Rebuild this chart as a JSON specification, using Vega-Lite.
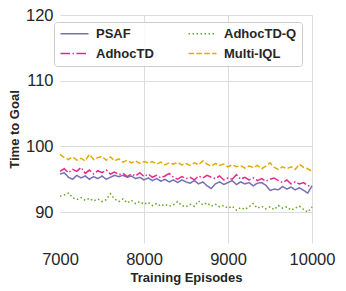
{
"$schema": "https://vega.github.io/schema/vega-lite/v6.json",
"width": 252, "height": 228,
"autosize": {"type": "none"},
"padding": {"left": 60, "top": 15, "right": 34, "bottom": 48},
"background": "white",
"config": {"font": "Liberation Sans", "view": {"stroke": null},
 "axis": {"labelFontSize": 16.5, "labelColor": "#262626", "labelFont": "Liberation Sans", "titleFontSize": 13, "titleFontWeight": "bold", "titleColor": "#262626", "ticks": false, "domain": false, "gridColor": "#dcdcdc", "gridWidth": 1, "labelPadding": 8, "titlePadding": 4, "labelFlush": false, "labelOverlap": false}},
"data": {"values": [
{"ep":7000,"alg":"PSAF","t":95.8},{"ep":7050,"alg":"PSAF","t":96.0},{"ep":7100,"alg":"PSAF","t":95.3},{"ep":7150,"alg":"PSAF","t":95.0},{"ep":7200,"alg":"PSAF","t":95.6},{"ep":7250,"alg":"PSAF","t":95.2},{"ep":7300,"alg":"PSAF","t":95.5},{"ep":7350,"alg":"PSAF","t":95.0},{"ep":7400,"alg":"PSAF","t":95.4},{"ep":7450,"alg":"PSAF","t":95.1},{"ep":7500,"alg":"PSAF","t":95.5},{"ep":7550,"alg":"PSAF","t":95.0},{"ep":7600,"alg":"PSAF","t":95.3},{"ep":7650,"alg":"PSAF","t":95.6},{"ep":7700,"alg":"PSAF","t":95.4},{"ep":7750,"alg":"PSAF","t":95.6},{"ep":7800,"alg":"PSAF","t":95.3},{"ep":7850,"alg":"PSAF","t":95.5},{"ep":7900,"alg":"PSAF","t":95.1},{"ep":7950,"alg":"PSAF","t":95.3},{"ep":8000,"alg":"PSAF","t":94.9},{"ep":8050,"alg":"PSAF","t":95.2},{"ep":8100,"alg":"PSAF","t":94.8},{"ep":8150,"alg":"PSAF","t":95.1},{"ep":8200,"alg":"PSAF","t":94.7},{"ep":8250,"alg":"PSAF","t":95.0},{"ep":8300,"alg":"PSAF","t":94.6},{"ep":8350,"alg":"PSAF","t":94.9},{"ep":8400,"alg":"PSAF","t":94.5},{"ep":8450,"alg":"PSAF","t":94.9},{"ep":8500,"alg":"PSAF","t":94.6},{"ep":8550,"alg":"PSAF","t":94.4},{"ep":8600,"alg":"PSAF","t":94.8},{"ep":8650,"alg":"PSAF","t":94.3},{"ep":8700,"alg":"PSAF","t":94.6},{"ep":8750,"alg":"PSAF","t":94.0},{"ep":8800,"alg":"PSAF","t":93.6},{"ep":8850,"alg":"PSAF","t":94.3},{"ep":8900,"alg":"PSAF","t":94.6},{"ep":8950,"alg":"PSAF","t":94.2},{"ep":9000,"alg":"PSAF","t":94.5},{"ep":9050,"alg":"PSAF","t":94.8},{"ep":9100,"alg":"PSAF","t":94.2},{"ep":9150,"alg":"PSAF","t":94.6},{"ep":9200,"alg":"PSAF","t":94.3},{"ep":9250,"alg":"PSAF","t":94.5},{"ep":9300,"alg":"PSAF","t":94.0},{"ep":9350,"alg":"PSAF","t":94.4},{"ep":9400,"alg":"PSAF","t":94.5},{"ep":9450,"alg":"PSAF","t":94.1},{"ep":9500,"alg":"PSAF","t":93.3},{"ep":9550,"alg":"PSAF","t":93.5},{"ep":9600,"alg":"PSAF","t":93.4},{"ep":9650,"alg":"PSAF","t":93.9},{"ep":9700,"alg":"PSAF","t":93.5},{"ep":9750,"alg":"PSAF","t":93.8},{"ep":9800,"alg":"PSAF","t":93.4},{"ep":9850,"alg":"PSAF","t":93.7},{"ep":9900,"alg":"PSAF","t":93.3},{"ep":9950,"alg":"PSAF","t":92.9},{"ep":10000,"alg":"PSAF","t":94.0},
{"ep":7000,"alg":"AdhocTD","t":96.2},{"ep":7050,"alg":"AdhocTD","t":96.6},{"ep":7100,"alg":"AdhocTD","t":96.0},{"ep":7150,"alg":"AdhocTD","t":96.5},{"ep":7200,"alg":"AdhocTD","t":96.2},{"ep":7250,"alg":"AdhocTD","t":96.8},{"ep":7300,"alg":"AdhocTD","t":95.9},{"ep":7350,"alg":"AdhocTD","t":96.4},{"ep":7400,"alg":"AdhocTD","t":95.8},{"ep":7450,"alg":"AdhocTD","t":96.3},{"ep":7500,"alg":"AdhocTD","t":96.0},{"ep":7550,"alg":"AdhocTD","t":96.4},{"ep":7600,"alg":"AdhocTD","t":95.8},{"ep":7650,"alg":"AdhocTD","t":96.1},{"ep":7700,"alg":"AdhocTD","t":95.7},{"ep":7750,"alg":"AdhocTD","t":95.9},{"ep":7800,"alg":"AdhocTD","t":95.4},{"ep":7850,"alg":"AdhocTD","t":95.8},{"ep":7900,"alg":"AdhocTD","t":95.5},{"ep":7950,"alg":"AdhocTD","t":96.0},{"ep":8000,"alg":"AdhocTD","t":95.4},{"ep":8050,"alg":"AdhocTD","t":95.8},{"ep":8100,"alg":"AdhocTD","t":95.3},{"ep":8150,"alg":"AdhocTD","t":95.6},{"ep":8200,"alg":"AdhocTD","t":95.2},{"ep":8250,"alg":"AdhocTD","t":95.5},{"ep":8300,"alg":"AdhocTD","t":95.9},{"ep":8350,"alg":"AdhocTD","t":95.3},{"ep":8400,"alg":"AdhocTD","t":95.0},{"ep":8450,"alg":"AdhocTD","t":95.4},{"ep":8500,"alg":"AdhocTD","t":95.1},{"ep":8550,"alg":"AdhocTD","t":95.3},{"ep":8600,"alg":"AdhocTD","t":94.9},{"ep":8650,"alg":"AdhocTD","t":95.5},{"ep":8700,"alg":"AdhocTD","t":95.2},{"ep":8750,"alg":"AdhocTD","t":95.6},{"ep":8800,"alg":"AdhocTD","t":95.3},{"ep":8850,"alg":"AdhocTD","t":95.1},{"ep":8900,"alg":"AdhocTD","t":95.5},{"ep":8950,"alg":"AdhocTD","t":94.9},{"ep":9000,"alg":"AdhocTD","t":95.2},{"ep":9050,"alg":"AdhocTD","t":95.0},{"ep":9100,"alg":"AdhocTD","t":95.7},{"ep":9150,"alg":"AdhocTD","t":95.0},{"ep":9200,"alg":"AdhocTD","t":95.3},{"ep":9250,"alg":"AdhocTD","t":94.9},{"ep":9300,"alg":"AdhocTD","t":95.2},{"ep":9350,"alg":"AdhocTD","t":94.8},{"ep":9400,"alg":"AdhocTD","t":95.1},{"ep":9450,"alg":"AdhocTD","t":94.7},{"ep":9500,"alg":"AdhocTD","t":95.0},{"ep":9550,"alg":"AdhocTD","t":95.2},{"ep":9600,"alg":"AdhocTD","t":94.8},{"ep":9650,"alg":"AdhocTD","t":94.5},{"ep":9700,"alg":"AdhocTD","t":94.9},{"ep":9750,"alg":"AdhocTD","t":94.3},{"ep":9800,"alg":"AdhocTD","t":94.6},{"ep":9850,"alg":"AdhocTD","t":94.3},{"ep":9900,"alg":"AdhocTD","t":94.5},{"ep":9950,"alg":"AdhocTD","t":94.0},{"ep":10000,"alg":"AdhocTD","t":94.0},
{"ep":7000,"alg":"Multi-IQL","t":98.8},{"ep":7050,"alg":"Multi-IQL","t":98.3},{"ep":7100,"alg":"Multi-IQL","t":98.0},{"ep":7150,"alg":"Multi-IQL","t":98.4},{"ep":7200,"alg":"Multi-IQL","t":97.9},{"ep":7250,"alg":"Multi-IQL","t":98.2},{"ep":7300,"alg":"Multi-IQL","t":97.8},{"ep":7350,"alg":"Multi-IQL","t":98.8},{"ep":7400,"alg":"Multi-IQL","t":98.0},{"ep":7450,"alg":"Multi-IQL","t":98.3},{"ep":7500,"alg":"Multi-IQL","t":98.5},{"ep":7550,"alg":"Multi-IQL","t":97.9},{"ep":7600,"alg":"Multi-IQL","t":98.4},{"ep":7650,"alg":"Multi-IQL","t":97.8},{"ep":7700,"alg":"Multi-IQL","t":98.1},{"ep":7750,"alg":"Multi-IQL","t":97.6},{"ep":7800,"alg":"Multi-IQL","t":97.9},{"ep":7850,"alg":"Multi-IQL","t":97.5},{"ep":7900,"alg":"Multi-IQL","t":97.8},{"ep":7950,"alg":"Multi-IQL","t":97.4},{"ep":8000,"alg":"Multi-IQL","t":97.7},{"ep":8050,"alg":"Multi-IQL","t":97.5},{"ep":8100,"alg":"Multi-IQL","t":97.7},{"ep":8150,"alg":"Multi-IQL","t":97.3},{"ep":8200,"alg":"Multi-IQL","t":97.6},{"ep":8250,"alg":"Multi-IQL","t":97.2},{"ep":8300,"alg":"Multi-IQL","t":97.5},{"ep":8350,"alg":"Multi-IQL","t":97.3},{"ep":8400,"alg":"Multi-IQL","t":97.6},{"ep":8450,"alg":"Multi-IQL","t":97.2},{"ep":8500,"alg":"Multi-IQL","t":97.4},{"ep":8550,"alg":"Multi-IQL","t":97.1},{"ep":8600,"alg":"Multi-IQL","t":97.5},{"ep":8650,"alg":"Multi-IQL","t":97.2},{"ep":8700,"alg":"Multi-IQL","t":97.8},{"ep":8750,"alg":"Multi-IQL","t":97.3},{"ep":8800,"alg":"Multi-IQL","t":97.0},{"ep":8850,"alg":"Multi-IQL","t":97.4},{"ep":8900,"alg":"Multi-IQL","t":97.1},{"ep":8950,"alg":"Multi-IQL","t":97.3},{"ep":9000,"alg":"Multi-IQL","t":96.9},{"ep":9050,"alg":"Multi-IQL","t":97.2},{"ep":9100,"alg":"Multi-IQL","t":96.9},{"ep":9150,"alg":"Multi-IQL","t":97.1},{"ep":9200,"alg":"Multi-IQL","t":96.7},{"ep":9250,"alg":"Multi-IQL","t":97.0},{"ep":9300,"alg":"Multi-IQL","t":96.8},{"ep":9350,"alg":"Multi-IQL","t":97.1},{"ep":9400,"alg":"Multi-IQL","t":96.6},{"ep":9450,"alg":"Multi-IQL","t":97.0},{"ep":9500,"alg":"Multi-IQL","t":97.5},{"ep":9550,"alg":"Multi-IQL","t":96.8},{"ep":9600,"alg":"Multi-IQL","t":96.5},{"ep":9650,"alg":"Multi-IQL","t":96.9},{"ep":9700,"alg":"Multi-IQL","t":96.6},{"ep":9750,"alg":"Multi-IQL","t":96.9},{"ep":9800,"alg":"Multi-IQL","t":96.5},{"ep":9850,"alg":"Multi-IQL","t":97.3},{"ep":9900,"alg":"Multi-IQL","t":96.8},{"ep":9950,"alg":"Multi-IQL","t":96.6},{"ep":10000,"alg":"Multi-IQL","t":96.2},
{"ep":7000,"alg":"AdhocTD-Q","t":92.4},{"ep":7050,"alg":"AdhocTD-Q","t":92.6},{"ep":7100,"alg":"AdhocTD-Q","t":92.9},{"ep":7150,"alg":"AdhocTD-Q","t":92.2},{"ep":7200,"alg":"AdhocTD-Q","t":91.9},{"ep":7250,"alg":"AdhocTD-Q","t":92.2},{"ep":7300,"alg":"AdhocTD-Q","t":91.8},{"ep":7350,"alg":"AdhocTD-Q","t":92.1},{"ep":7400,"alg":"AdhocTD-Q","t":91.7},{"ep":7450,"alg":"AdhocTD-Q","t":92.0},{"ep":7500,"alg":"AdhocTD-Q","t":91.6},{"ep":7550,"alg":"AdhocTD-Q","t":91.9},{"ep":7600,"alg":"AdhocTD-Q","t":92.8},{"ep":7650,"alg":"AdhocTD-Q","t":92.0},{"ep":7700,"alg":"AdhocTD-Q","t":91.6},{"ep":7750,"alg":"AdhocTD-Q","t":92.0},{"ep":7800,"alg":"AdhocTD-Q","t":91.4},{"ep":7850,"alg":"AdhocTD-Q","t":91.8},{"ep":7900,"alg":"AdhocTD-Q","t":91.3},{"ep":7950,"alg":"AdhocTD-Q","t":91.6},{"ep":8000,"alg":"AdhocTD-Q","t":91.2},{"ep":8050,"alg":"AdhocTD-Q","t":91.5},{"ep":8100,"alg":"AdhocTD-Q","t":91.0},{"ep":8150,"alg":"AdhocTD-Q","t":91.3},{"ep":8200,"alg":"AdhocTD-Q","t":90.9},{"ep":8250,"alg":"AdhocTD-Q","t":91.2},{"ep":8300,"alg":"AdhocTD-Q","t":90.9},{"ep":8350,"alg":"AdhocTD-Q","t":91.1},{"ep":8400,"alg":"AdhocTD-Q","t":91.6},{"ep":8450,"alg":"AdhocTD-Q","t":91.0},{"ep":8500,"alg":"AdhocTD-Q","t":90.8},{"ep":8550,"alg":"AdhocTD-Q","t":91.2},{"ep":8600,"alg":"AdhocTD-Q","t":90.9},{"ep":8650,"alg":"AdhocTD-Q","t":91.7},{"ep":8700,"alg":"AdhocTD-Q","t":91.1},{"ep":8750,"alg":"AdhocTD-Q","t":91.4},{"ep":8800,"alg":"AdhocTD-Q","t":90.9},{"ep":8850,"alg":"AdhocTD-Q","t":91.2},{"ep":8900,"alg":"AdhocTD-Q","t":90.8},{"ep":8950,"alg":"AdhocTD-Q","t":91.0},{"ep":9000,"alg":"AdhocTD-Q","t":90.6},{"ep":9050,"alg":"AdhocTD-Q","t":90.9},{"ep":9100,"alg":"AdhocTD-Q","t":90.3},{"ep":9150,"alg":"AdhocTD-Q","t":90.7},{"ep":9200,"alg":"AdhocTD-Q","t":90.4},{"ep":9250,"alg":"AdhocTD-Q","t":90.8},{"ep":9300,"alg":"AdhocTD-Q","t":91.3},{"ep":9350,"alg":"AdhocTD-Q","t":90.6},{"ep":9400,"alg":"AdhocTD-Q","t":90.9},{"ep":9450,"alg":"AdhocTD-Q","t":90.5},{"ep":9500,"alg":"AdhocTD-Q","t":90.8},{"ep":9550,"alg":"AdhocTD-Q","t":90.4},{"ep":9600,"alg":"AdhocTD-Q","t":91.0},{"ep":9650,"alg":"AdhocTD-Q","t":90.6},{"ep":9700,"alg":"AdhocTD-Q","t":90.8},{"ep":9750,"alg":"AdhocTD-Q","t":90.3},{"ep":9800,"alg":"AdhocTD-Q","t":90.6},{"ep":9850,"alg":"AdhocTD-Q","t":90.9},{"ep":9900,"alg":"AdhocTD-Q","t":90.4},{"ep":9950,"alg":"AdhocTD-Q","t":90.0},{"ep":10000,"alg":"AdhocTD-Q","t":90.8}
]},
"mark": {"type": "line", "strokeWidth": 1.5},
"encoding": {
 "x": {"field": "ep", "type": "quantitative", "title": "Training Episodes", "scale": {"domain": [7000, 10000], "nice": false, "zero": false}, "axis": {"values": [7000, 8000, 9000, 10000], "format": "d", "gridOpacity": {"condition": {"test": "datum.value == 7000", "value": 0}, "value": 1}}},
 "y": {"field": "t", "type": "quantitative", "title": "Time to Goal", "scale": {"domain": [85.3, 120], "nice": false, "zero": false}, "axis": {"values": [90, 100, 110, 120], "format": "d", "labelPadding": 7, "titlePadding": 4}},
 "color": {"field": "alg", "type": "nominal", "title": null, "scale": {"domain": ["PSAF", "AdhocTD-Q", "AdhocTD", "Multi-IQL"], "range": ["#7570b3", "#66a61e", "#e7298a", "#e6ab02"]},
  "legend": {"orient": "none", "legendX": -6, "legendY": 7, "columns": 2, "direction": "horizontal", "fillColor": "rgba(255,255,255,0.85)", "strokeColor": "#cccccc", "cornerRadius": 3, "padding": 5, "labelFont": "Liberation Sans", "labelFontWeight": "bold", "labelFontSize": 13, "labelColor": "#262626", "symbolType": "M-1,0H4.6", "symbolSize": 100, "symbolStrokeWidth": 1.5, "labelOffset": 24, "columnPadding": 31, "rowPadding": 6}},
 "strokeDash": {"field": "alg", "type": "nominal", "title": null, "scale": {"domain": ["PSAF", "AdhocTD-Q", "AdhocTD", "Multi-IQL"], "range": [[1, 0], [1.5, 2.5], [9.6, 2.4, 1.5, 2.4], [5.5, 2.4]]}}
}
}
